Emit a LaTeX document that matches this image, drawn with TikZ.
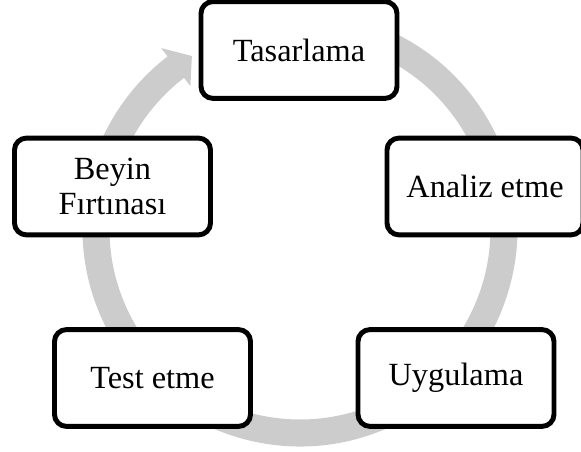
\documentclass[tikz,border=0pt]{standalone}
\usepackage{fontspec}
\setmainfont{Liberation Serif}
\usepackage{tikz}
\usetikzlibrary{calc}
\definecolor{ringgray}{RGB}{204,204,204}
\definecolor{boxline}{RGB}{0,0,0}
\tikzset{
  stepbox/.style={rectangle, draw=boxline, fill=white,
    minimum width=4.9cm, minimum height=2.42cm, align=center,
    font=\fontsize{23}{25}\selectfont, rounded corners=0.3cm, line width=3.5pt}
}

\begin{document}
\begin{tikzpicture}[x=0.025cm, y=0.025cm]
  \useasboundingbox (0,0) rectangle (581,452);
  \coordinate (ctr) at (300,223);

  % Cycle arrow (behind the boxes)
  \fill[ringgray] ($(ctr)+(75:217.5)$) arc[start angle=75, end angle=-232.5, radius=217.5]
    -- ($(ctr)+(127.5:228)$) -- ($(ctr)+(122:204)$) -- ($(ctr)+(127.5:180)$)
    -- ($(ctr)+(127.5:190.5)$) arc[start angle=-232.5, end angle=75, radius=190.5] -- cycle;

  % Steps
  \node[stepbox] (tasar) at (299,402) {Tasarlama};
  \node[stepbox] (analiz) at (485,265.5) {Analiz etme};
  \node[stepbox] (uygula) at (456,74) {Uygulama};
  \node[stepbox] (test) at (152.5,74) {Test etme};
  \node[stepbox] (beyin) at (112.5,265.5) {Beyin\\Fırtınası};
\end{tikzpicture}
\end{document}
